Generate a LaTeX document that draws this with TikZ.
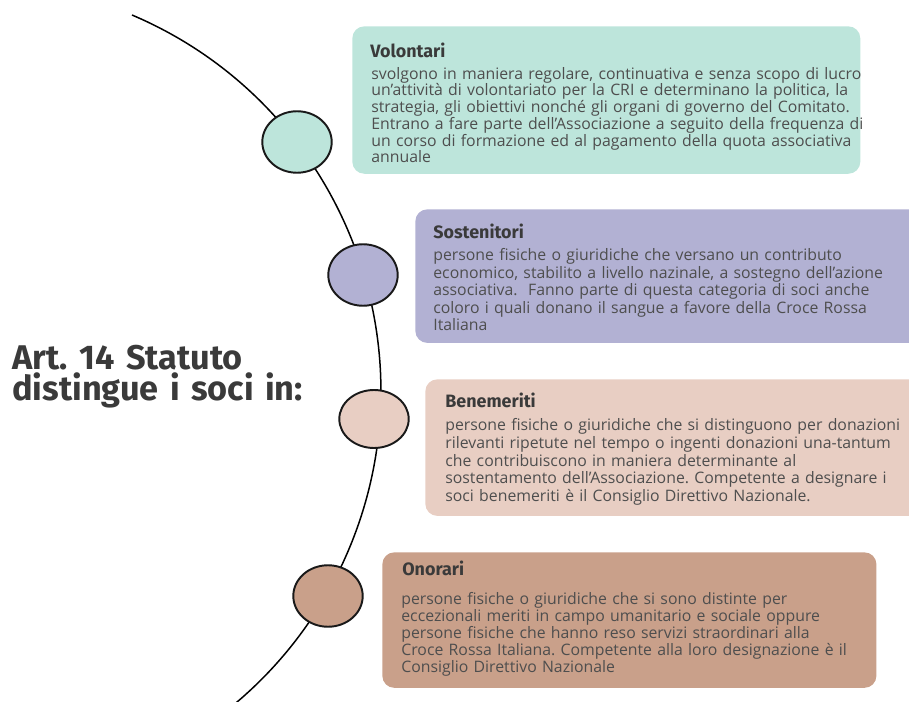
\documentclass[tikz,border=0pt]{standalone}
\usepackage{fontspec}
\setmainfont{Open Sans}
\newfontfamily\headfont{Fira Sans}
\usepackage{tikz}
\usetikzlibrary{shapes.geometric}
\definecolor{mint}{HTML}{BDE5DB}
\definecolor{lilac}{HTML}{B2B1D3}
\definecolor{blush}{HTML}{E8CEC3}
\definecolor{clay}{HTML}{C9A08A}
\definecolor{ink}{HTML}{3A3A3A}
\tikzset{hd/.style={anchor=base west, inner sep=0pt, text=ink, font=\headfont\fontsize{10.2}{11}\selectfont\bfseries}}
\tikzset{tx/.style={anchor=base west, inner sep=0pt, text=ink!90, align=left, text width=320pt, font=\fontsize{9}{#1}\selectfont}}
\tikzset{tx/.default=9.8pt}
\tikzset{bx/.style={anchor=north west, rounded corners=6.8pt, inner sep=0pt}}
\tikzset{bead/.style={ellipse, draw=black!90, line width=1.1pt, inner sep=0pt, minimum width=39.5pt, minimum height=35pt}}
\frenchspacing

\begin{document}
\begin{tikzpicture}[x=0.02cm, y=-0.02cm, line join=round]
            \useasboundingbox (0,0) rectangle (909,702);
            % the arc and its beads
            \coordinate (T) at (132,15);
            \draw[line width=0.85pt] (T) arc[start angle=-67, end angle=50, radius=408.4];
            \node[bead, fill=mint] (V) at (297,142) {};
            \node[bead, fill=lilac] (S) at (363,275) {};
            \node[bead, fill=blush, minimum height=33pt] (B) at (374,419) {};
            \node[bead, fill=clay] (O) at (328,596) {};

            \node[anchor=base west, inner sep=0pt, text=ink, align=left, text width=250pt,
              font=\headfont\fontsize{19.5}{17.2}\selectfont\bfseries] (title) at (12,370)
              {Art. 14 Statuto\\distingue i soci in:};

            % boxes
            \node[bx, fill=mint, minimum width=289.1pt, minimum height=83.9pt] (VB) at (352,26) {};
            \node[hd] at (370,57.3) {Volontari};
            \node[tx=9.5pt] at (371,79.3) {svolgono in maniera regolare, continuativa e senza scopo di lucro\\
              un’attività di volontariato per la CRI e determinano la politica, la\\
              strategia, gli obiettivi nonché gli organi di governo del Comitato.\\
              Entrano a fare parte dell’Associazione a seguito della frequenza di\\
              un corso di formazione ed al pagamento della quota associativa\\
              annuale};

            \node[bx, fill=lilac, minimum width=294.8pt, minimum height=76pt] (SB) at (415,209) {};
            \node[hd] at (433,238.3) {Sostenitori};
            \node[tx=9.9pt] at (433,261) {persone fisiche o giuridiche che versano un contributo\\
              economico, stabilito a livello nazinale, a sostegno dell’azione\\
              associativa.\ \ Fanno parte di questa categoria di soci anche\\
              coloro i quali donano il sangue a favore della Croce Rossa\\
              Italiana};

            \node[bx, fill=blush, minimum width=289pt, minimum height=77.7pt] (BB) at (425,379) {};
            \node[hd] at (445,407.3) {Benemeriti};
            \node[tx=10.1pt] at (445,430.6) {persone fisiche o giuridiche che si distinguono per donazioni\\
              rilevanti ripetute nel tempo o ingenti donazioni una-tantum\\
              che contribuiscono in maniera determinante al\\
              sostentamento dell’Associazione. Competente a designare i\\
              soci benemeriti è il Consiglio Direttivo Nazionale.};

            \node[bx, fill=clay, minimum width=281.2pt, minimum height=77.1pt] (OB) at (382,552) {};
            \node[hd] at (402,575.7) {Onorari};
            \node[tx] at (401,604) {persone fisiche o giuridiche che si sono distinte per\\
              eccezionali meriti in campo umanitario e sociale oppure\\
              persone fisiche che hanno reso servizi straordinari alla\\
              Croce Rossa Italiana. Competente alla loro designazione è il\\
              Consiglio Direttivo Nazionale};
          \end{tikzpicture}
\end{document}
